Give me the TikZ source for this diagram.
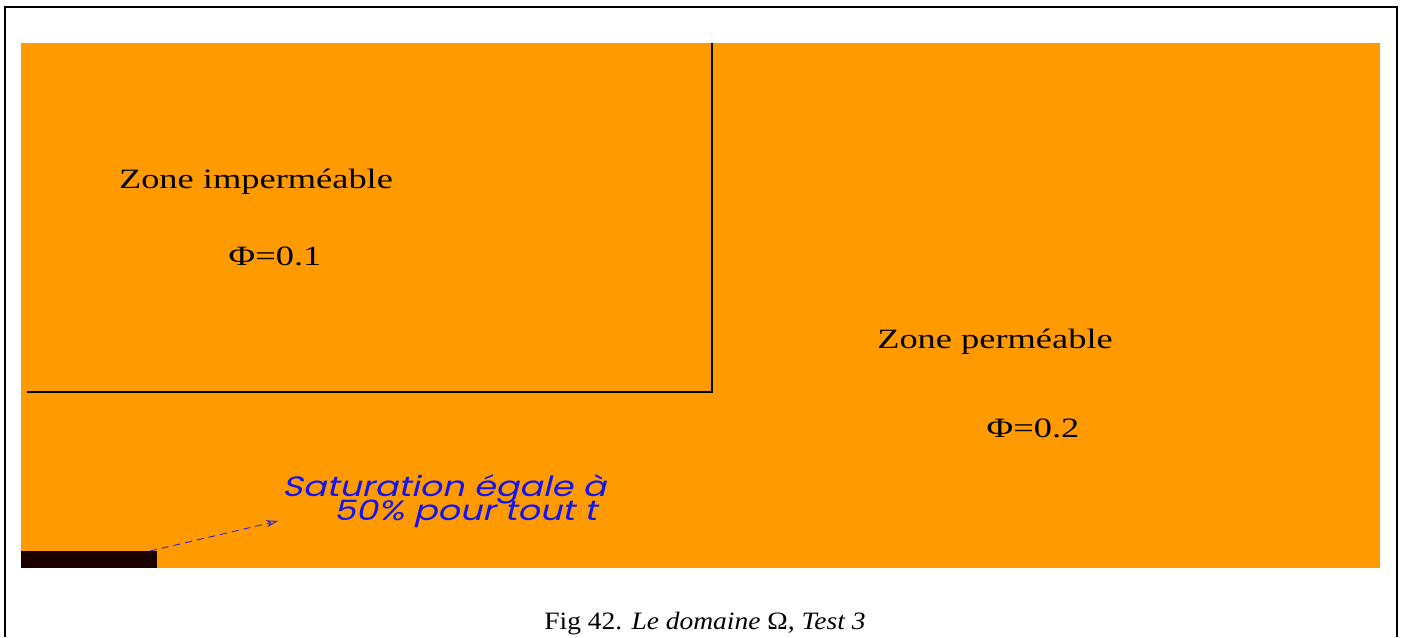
\documentclass[tikz,border=0pt]{standalone}
\usepackage{fontspec}
\setmainfont{Liberation Serif}
\newfontfamily\agfont[FakeSlant=0.2]{Poppins}
\usetikzlibrary{arrows.meta}
\definecolor{zoneorange}{RGB}{255,155,0}
\definecolor{darkbar}{RGB}{26,0,0}
\definecolor{noteblue}{RGB}{20,20,240}
\tikzset{
  zonelabel/.style={font=\fontsize{28}{30}\selectfont, xscale=1.3, inner sep=0pt, anchor=center},
  bluenote/.style={font=\agfont\fontsize{28}{24}\selectfont, text=noteblue, align=center, inner sep=0pt, xscale=1.25},
  frameline/.style={line width=2.6pt, black},
  zoneline/.style={line width=1.6pt, black}
}
\begin{document}
\begin{tikzpicture}[x=1pt,y=-1pt]
\useasboundingbox (0,0) rectangle (1404,637);
% frame
\draw[frameline] (5,637) -- (5,7) -- (1397,7) -- (1397,637);
% domain
\fill[zoneorange] (21,43) rectangle (1380,568);
\draw[zoneline] (27,392) -- (712,392) -- (712,43);
\fill[darkbar] (21,551) rectangle (157,568);
% labels
\node[zonelabel] (zi) at (256,182) {Zone imperméable};
\node[zonelabel] (phi1) at (275,256) {Φ=0.1};
\node[zonelabel] (zp) at (995,342) {Zone perméable};
\node[zonelabel] (phi2) at (1033,428) {Φ=0.2};
\node[bluenote] (note) at (444,501) {Saturation égale à\\[-5pt]\hspace*{34pt}50\% pour tout t};
\coordinate (src) at (150,551);
\coordinate (tip) at (278,521);
\draw[noteblue, dash pattern=on 7pt off 5pt, line width=0.8pt, -{Stealth[open,length=12pt,width=7pt]}] (src) -- (tip);
% caption
\node[font=\fontsize{25}{27}\selectfont, inner sep=0pt, xscale=1.1] (cap) at (705,624) {Fig 42. \textit{Le domaine} Ω\textit{, Test 3}};
\end{tikzpicture}
\end{document}
